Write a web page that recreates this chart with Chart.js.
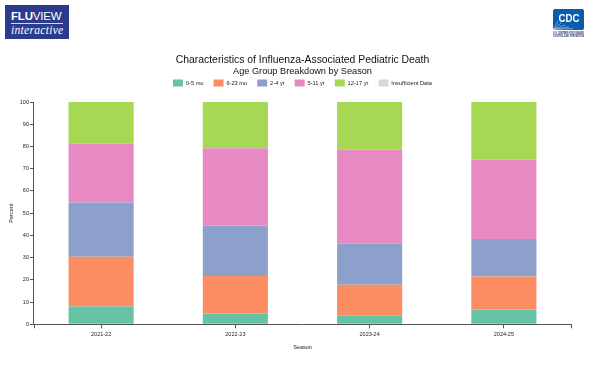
<!DOCTYPE html>
<html>
<head>
<meta charset="utf-8">
<title>Characteristics of Influenza-Associated Pediatric Death</title>
<script src="https://cdn.jsdelivr.net/npm/chart.js@4.4.1/dist/chart.umd.min.js"></script>
<style>
  body { margin: 0; background: #fff; font-family: "Liberation Sans", Arial, sans-serif; }
  #wrap { position: relative; width: 600px; height: 371px; overflow: hidden; }
  #chart { position: absolute; left: 0; top: 0; }
  .fluview { position: absolute; left: 5px; top: 5px; width: 64px; height: 34px; background: #2b3b8e; color: #fff; }
  .fluview .name { position: absolute; left: 6px; top: 6px; font-size: 11.5px; line-height: 11px; letter-spacing: -0.2px; }
  .fluview .name b { font-weight: bold; }
  .fluview .rule { position: absolute; left: 6px; top: 18px; width: 52px; height: 1px; background: rgba(255,255,255,0.8); }
  .fluview .sub { position: absolute; left: 6px; top: 19px; font-family: "Liberation Serif", serif; font-style: italic; font-size: 11.5px; line-height: 12px; letter-spacing: 0.3px; }
  .cdc { position: absolute; left: 552px; top: 8px; }
</style>
</head>
<body>
<div id="wrap">
  <canvas id="chart" width="600" height="371"></canvas>
  <div class="fluview">
    <div class="name"><b>FLU</b>VIEW</div>
    <div class="rule"></div>
    <div class="sub">interactive</div>
  </div>
  <svg class="cdc" width="34" height="32" viewBox="0 0 34 32">
    <rect x="1" y="1" width="31" height="21" rx="2" fill="#0a5cad"/>
    <g stroke="#fff" stroke-width="0.5" opacity="0.85">
      <line x1="1.5" y1="21.5" x2="9" y2="15"/>
      <line x1="1.5" y1="21.5" x2="13" y2="17"/>
      <line x1="1.5" y1="21.5" x2="17" y2="19"/>
      <line x1="1.5" y1="21.5" x2="21" y2="20.5"/>
      <line x1="1.5" y1="21.5" x2="6" y2="13"/>
    </g>
    <text x="17" y="14" text-anchor="middle" font-family="Liberation Sans, Arial, sans-serif" font-weight="bold" font-size="11.5" fill="#fff" textLength="21" lengthAdjust="spacingAndGlyphs">CDC</text>
    <text x="1" y="26" font-family="Liberation Sans, Arial, sans-serif" font-weight="bold" font-size="2.6" fill="#1c2b5e" textLength="31" lengthAdjust="spacingAndGlyphs">U.S. CENTERS FOR DISEASE</text>
    <text x="1" y="29" font-family="Liberation Sans, Arial, sans-serif" font-weight="bold" font-size="2.6" fill="#1c2b5e" textLength="31" lengthAdjust="spacingAndGlyphs">CONTROL AND PREVENTION</text>
  </svg>
</div>
<script>
// Seasons and age groups
const seasons = ['2021-22', '2022-23', '2023-24', '2024-25'];
const ageGroups = ['0-5 mo', '6-23 mo', '2-4 yr', '5-11 yr', '12-17 yr', 'Insufficient Data'];

// Percent of pediatric deaths by age group, per season
const pct0to5mo = [8.0, 4.9, 4.0, 6.7];
const pct6to23mo = [22.4, 16.8, 13.8, 14.8];
const pct2to4yr = [24.4, 22.8, 18.5, 16.9];
const pct5to11yr = [26.4, 34.7, 42.2, 35.6];
const pct12to17yr = [18.8, 20.8, 21.5, 26.0];
const pctInsufficient = [0, 0, 0, 0];

// Y axis tick values
const percentTicks = [0, 10, 20, 30, 40, 50, 60, 70, 80, 90, 100];

const groupColors = ['#66c2a5', '#fc8d62', '#8da0cb', '#e78ac3', '#a6d854', '#d9d9d9'];
const groupValues = [pct0to5mo, pct6to23mo, pct2to4yr, pct5to11yr, pct12to17yr, pctInsufficient];

Chart.defaults.font.family = '"Liberation Sans", Arial, sans-serif';
Chart.defaults.color = '#222';

// Extra room between the legend and the plot
const legendGap = {
    id: 'legendGap',
    beforeInit(chart) {
        const fit = chart.legend.fit;
        chart.legend.fit = function () {
            fit.bind(chart.legend)();
            this.height += 5.5;
        };
    }
};

// Outer ticks at both ends of the x axis
const axisEndTicks = {
    id: 'axisEndTicks',
    afterDraw(chart) {
        const { ctx, chartArea: { left, right, bottom } } = chart;
        ctx.save();
        ctx.strokeStyle = '#555';
        ctx.lineWidth = 1;
        ctx.beginPath();
        [left, right].forEach(x => {
            const px = Math.round(x) + 0.5;
            ctx.moveTo(px, bottom);
            ctx.lineTo(px, bottom + 4);
        });
        ctx.stroke();
        ctx.restore();
    }
};

const datasets = ageGroups.map((label, i) => ({
    label: label,
    data: groupValues[i],
    backgroundColor: groupColors[i],
    borderWidth: 0,
    categoryPercentage: 1,
    barPercentage: 0.485
}));

new Chart(document.getElementById('chart'), {
    type: 'bar',
    data: { labels: seasons, datasets: datasets },
    options: {
        responsive: false,
        animation: false,
        devicePixelRatio: 1,
        layout: { padding: { top: 0, left: 0, right: 29, bottom: 0 } },
        plugins: {
            title: {
                display: true,
                fullSize: false,
                text: 'Characteristics of Influenza-Associated Pediatric Death',
                color: '#111',
                font: { size: 10.4, weight: 'normal', lineHeight: 1 },
                padding: { top: 54.8, bottom: 0 }
            },
            subtitle: {
                display: true,
                fullSize: false,
                text: 'Age Group Breakdown by Season',
                color: '#111',
                font: { size: 9.2, lineHeight: 1 },
                padding: { top: 1.2, bottom: -6.1 }
            },
            legend: {
                position: 'top',
                fullSize: false,
                labels: { boxWidth: 10, boxHeight: 7, padding: 10, color: '#222', font: { size: 5.7 } }
            },
            tooltip: { enabled: false }
        },
        scales: {
            x: {
                stacked: true,
                grid: { drawOnChartArea: false, offset: false, tickLength: 4, color: '#555' },
                border: { color: '#555' },
                ticks: { font: { size: 5.5 }, padding: 2.7, maxRotation: 0, color: '#222' },
                title: { display: true, text: 'Season', font: { size: 5.5 }, padding: { top: 3.4, bottom: 20.7 }, color: '#222' }
            },
            y: {
                stacked: true,
                min: 0,
                max: 100,
                afterBuildTicks: scale => { scale.ticks = percentTicks.map(v => ({ value: v })); },
                grid: { drawOnChartArea: false, tickLength: 4, color: '#555' },
                border: { color: '#555' },
                ticks: { font: { size: 5.5 }, padding: 1, color: '#222' },
                title: { display: true, text: 'Percent', font: { size: 5.5 }, padding: { top: 7.7, bottom: 4.5 }, color: '#222' }
            }
        }
    },
    plugins: [legendGap, axisEndTicks]
});
</script>
</body>
</html>
